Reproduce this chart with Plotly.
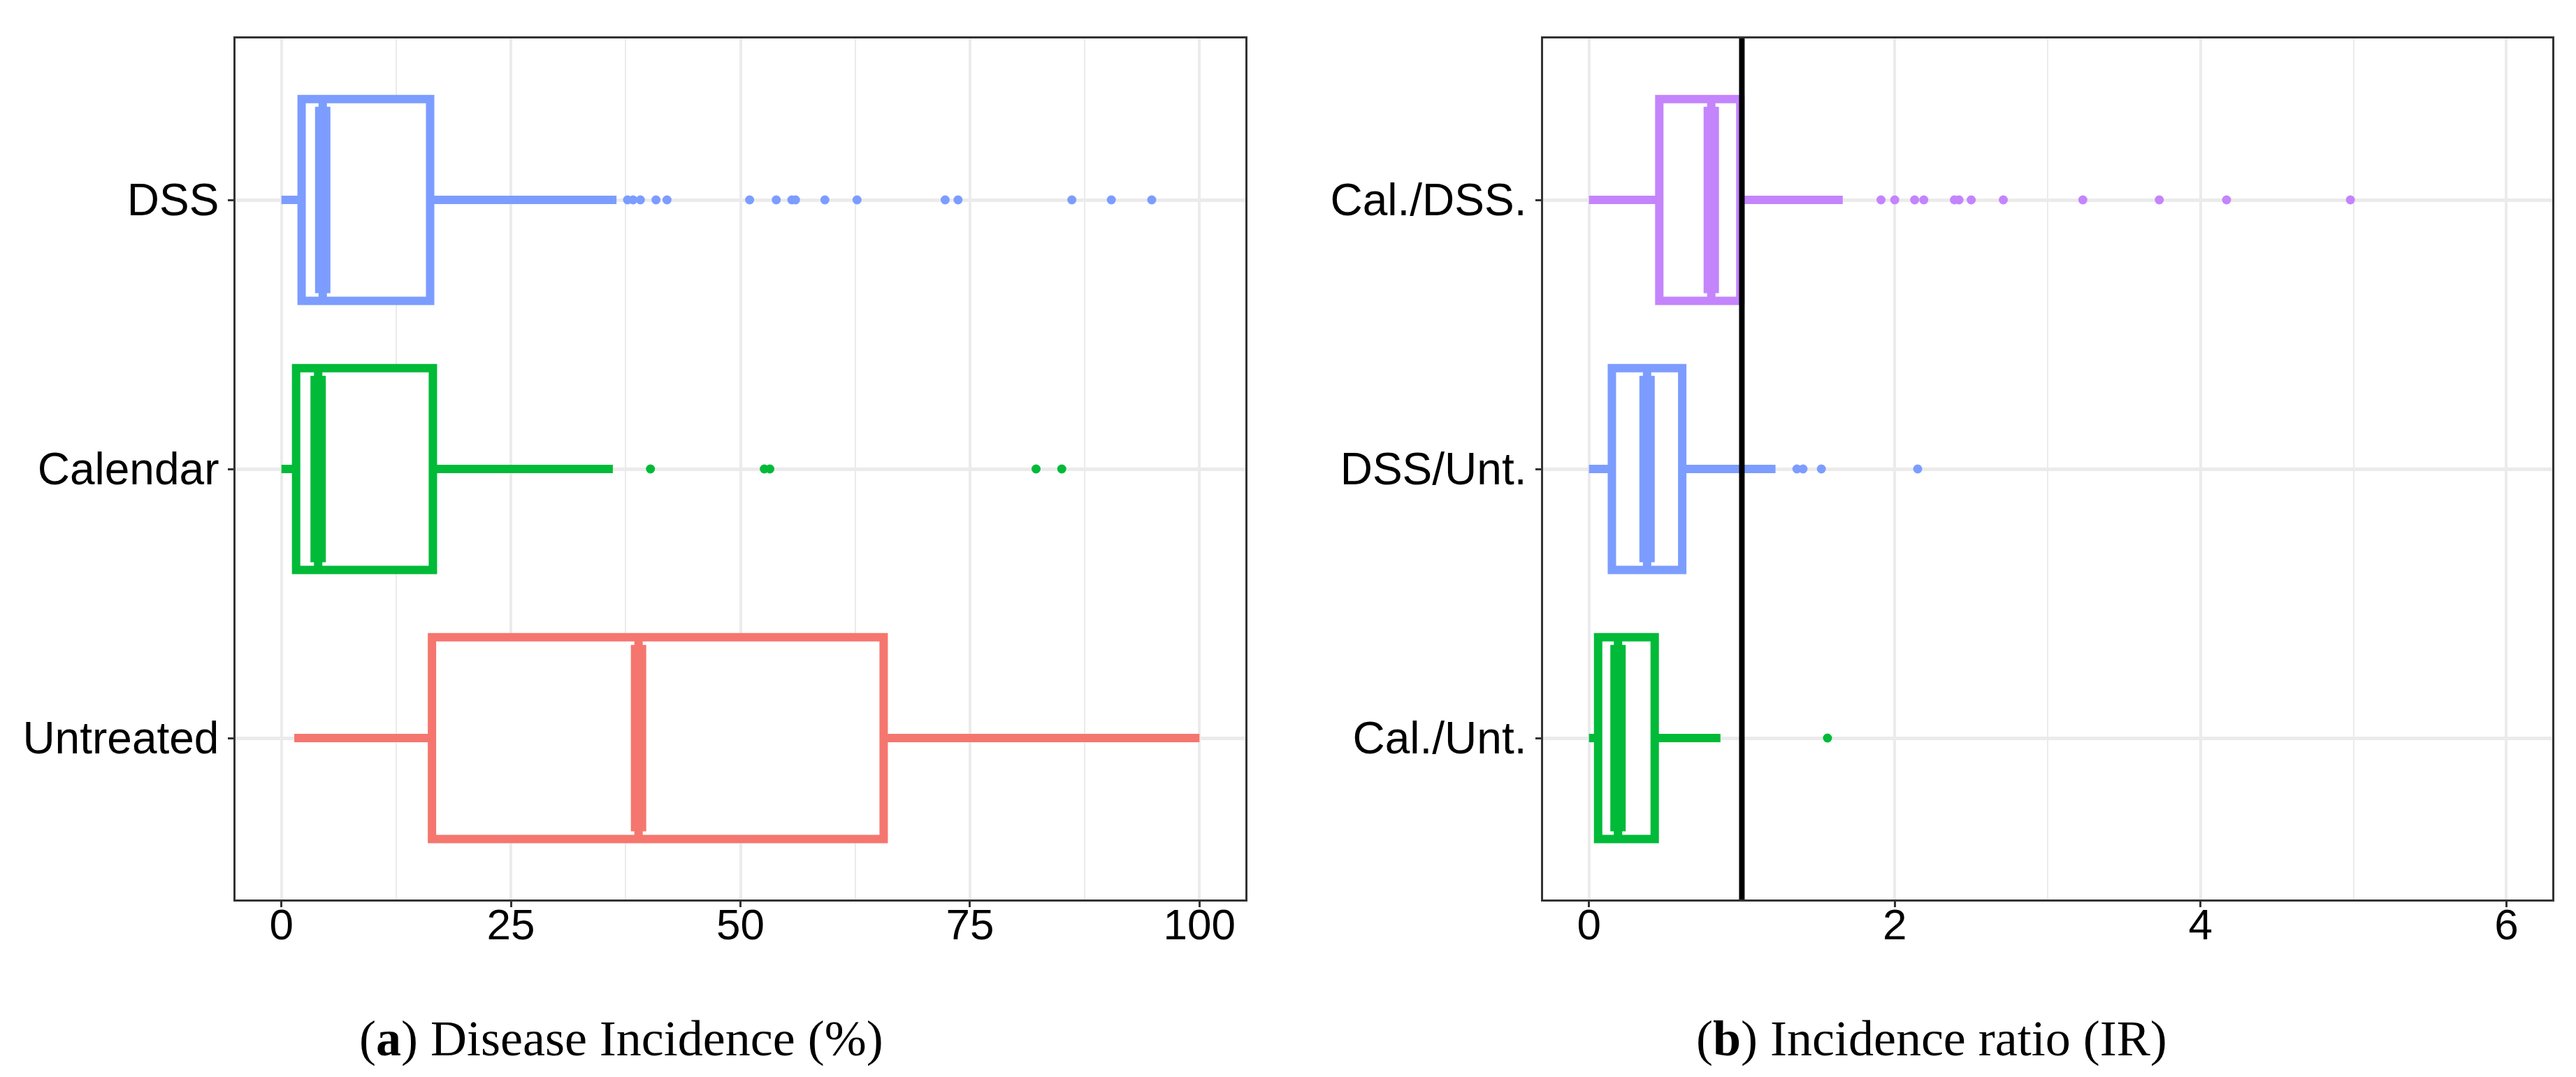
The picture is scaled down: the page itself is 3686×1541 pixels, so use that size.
import plotly.graph_objects as go

# ---------------- data ----------------
# Panel (a): Disease incidence (%)
cats_a = ["Untreated", "Calendar", "DSS"]
colors_a = ["#F5766E", "#00BA38", "#7C9DFF"]
q1_a = [16.4, 1.6, 2.2]
med_a = [38.9, 4.0, 4.5]
q3_a = [65.6, 16.5, 16.2]
low_a = [1.4, 0.0, 0.0]
up_a = [100.0, 36.1, 36.5]
out_unt = []
out_cal = [40.2, 52.6, 53.2, 82.2, 85.0]
out_dss = [37.7, 38.3, 39.1, 40.8, 42.0, 51.0, 53.9, 55.6, 56.0, 59.2, 62.7,
           72.3, 73.7, 86.1, 90.4, 94.8]
outs_a = [out_unt, out_cal, out_dss]
ticks_a = [0, 25, 50, 75, 100]

# Panel (b): Incidence ratio (IR)
cats_b = ["Cal./Unt.", "DSS/Unt.", "Cal./DSS."]
colors_b = ["#00BA38", "#7C9DFF", "#C484FC"]
q1_b = [0.06, 0.15, 0.46]
med_b = [0.19, 0.38, 0.80]
q3_b = [0.43, 0.61, 0.99]
low_b = [0.0, 0.0, 0.0]
up_b = [0.86, 1.22, 1.66]
out_calunt = [1.56]
out_dssunt = [1.36, 1.40, 1.52, 2.15]
out_caldss = [1.91, 2.00, 2.13, 2.19, 2.39, 2.42, 2.50, 2.71, 3.23, 3.73, 4.17, 4.98]
outs_b = [out_calunt, out_dssunt, out_caldss]
ticks_b = [0, 2, 4, 6]
ref_line = 1.0

captions = ["(<b>a</b>) Disease Incidence (%)", "(<b>b</b>) Incidence ratio (IR)"]

# ---------------- figure ----------------
W, H = 3686, 1541
BOX_W = 0.75
LINE_W = 12
MED_W = 22
PT = 13
PX_PER_UNIT = (1279 - 47) / 3.2   # y pixels per category unit
MED_INSET = (MED_W / 2) / PX_PER_UNIT

fig = go.Figure()


def add_panel(cats, colors, q1, med, q3, low, up, outs, xa, ya):
    for i, c in enumerate(cats):
        pos = i + 1
        fig.add_trace(go.Box(
            orientation="h", y=[pos], q1=[q1[i]], median=[med[i]], q3=[q3[i]],
            lowerfence=[low[i]], upperfence=[up[i]],
            width=BOX_W, whiskerwidth=0, boxpoints=False,
            line=dict(color=colors[i], width=LINE_W), fillcolor="white",
            xaxis=xa, yaxis=ya, showlegend=False, hoverinfo="skip"))
        fig.add_trace(go.Scatter(
            x=[med[i], med[i]],
            y=[pos - BOX_W / 2 + MED_INSET, pos + BOX_W / 2 - MED_INSET],
            mode="lines", line=dict(color=colors[i], width=MED_W),
            xaxis=xa, yaxis=ya, showlegend=False, hoverinfo="skip"))
        if outs[i]:
            fig.add_trace(go.Scatter(
                x=outs[i], y=[pos] * len(outs[i]), mode="markers",
                marker=dict(color=colors[i], size=PT, line=dict(width=0)),
                xaxis=xa, yaxis=ya, showlegend=False, hoverinfo="skip"))


add_panel(cats_a, colors_a, q1_a, med_a, q3_a, low_a, up_a, outs_a, "x", "y")
add_panel(cats_b, colors_b, q1_b, med_b, q3_b, low_b, up_b, outs_b, "x2", "y2")

# reference line IR = 1
fig.add_trace(go.Scatter(x=[ref_line, ref_line], y=[0.4, 3.6], mode="lines",
                         line=dict(color="black", width=8), xaxis="x2", yaxis="y2",
                         showlegend=False, hoverinfo="skip"))

tick_font = dict(family="Liberation Sans, Arial, sans-serif", size=64, color="black")
xtick_font = dict(family="Liberation Sans, Arial, sans-serif", size=62, color="black")
grid_col = "#EBEBEB"
frame_col = "#333333"

xcommon = dict(showline=True, mirror=True, linecolor=frame_col, linewidth=3,
               ticks="outside", ticklen=8, tickwidth=3, tickcolor=frame_col,
               showgrid=True, gridcolor=grid_col, gridwidth=4, zeroline=False,
               tickfont=xtick_font, ticklabelstandoff=-28)
ycommon = dict(showline=True, mirror=True, linecolor=frame_col, linewidth=2.5,
               ticks="outside", ticklen=8, tickwidth=3, tickcolor=frame_col,
               showgrid=True, gridcolor=grid_col, gridwidth=5, zeroline=False,
               tickfont=tick_font, tickmode="array", tickvals=[1, 2, 3],
               range=[0.4, 3.6], domain=[1 - 1279 / H, 1 - 47 / H])

fig.update_layout(
    width=W, height=H, margin=dict(l=0, r=0, t=0, b=0),
    paper_bgcolor="white", plot_bgcolor="white",
    xaxis=dict(**xcommon, domain=[329 / W, 1774 / W], range=[-5, 105],
               tickmode="array", tickvals=ticks_a,
               minor=dict(dtick=12.5, tick0=0, showgrid=True, gridcolor=grid_col,
                          gridwidth=2, ticks="")),
    yaxis=dict(**ycommon, anchor="x", ticktext=cats_a),
    xaxis2=dict(**xcommon, domain=[2200 / W, 3644 / W], range=[-0.3, 6.3],
                tickmode="array", tickvals=ticks_b, anchor="y2",
                minor=dict(dtick=1, tick0=0, showgrid=True, gridcolor=grid_col,
                           gridwidth=2, ticks="")),
    yaxis2=dict(**ycommon, anchor="x2", ticktext=cats_b),
    boxmode="overlay",
)

cap_font = dict(family="Liberation Serif, Times New Roman, serif", size=72, color="black")
for txt, xc in zip(captions, [881 / W, 2756 / W]):
    fig.add_annotation(text=txt, x=xc, y=1 - 1478 / H, xref="paper", yref="paper",
                       xanchor="center", yanchor="middle", showarrow=False, font=cap_font)

fig.write_html("out.html")
